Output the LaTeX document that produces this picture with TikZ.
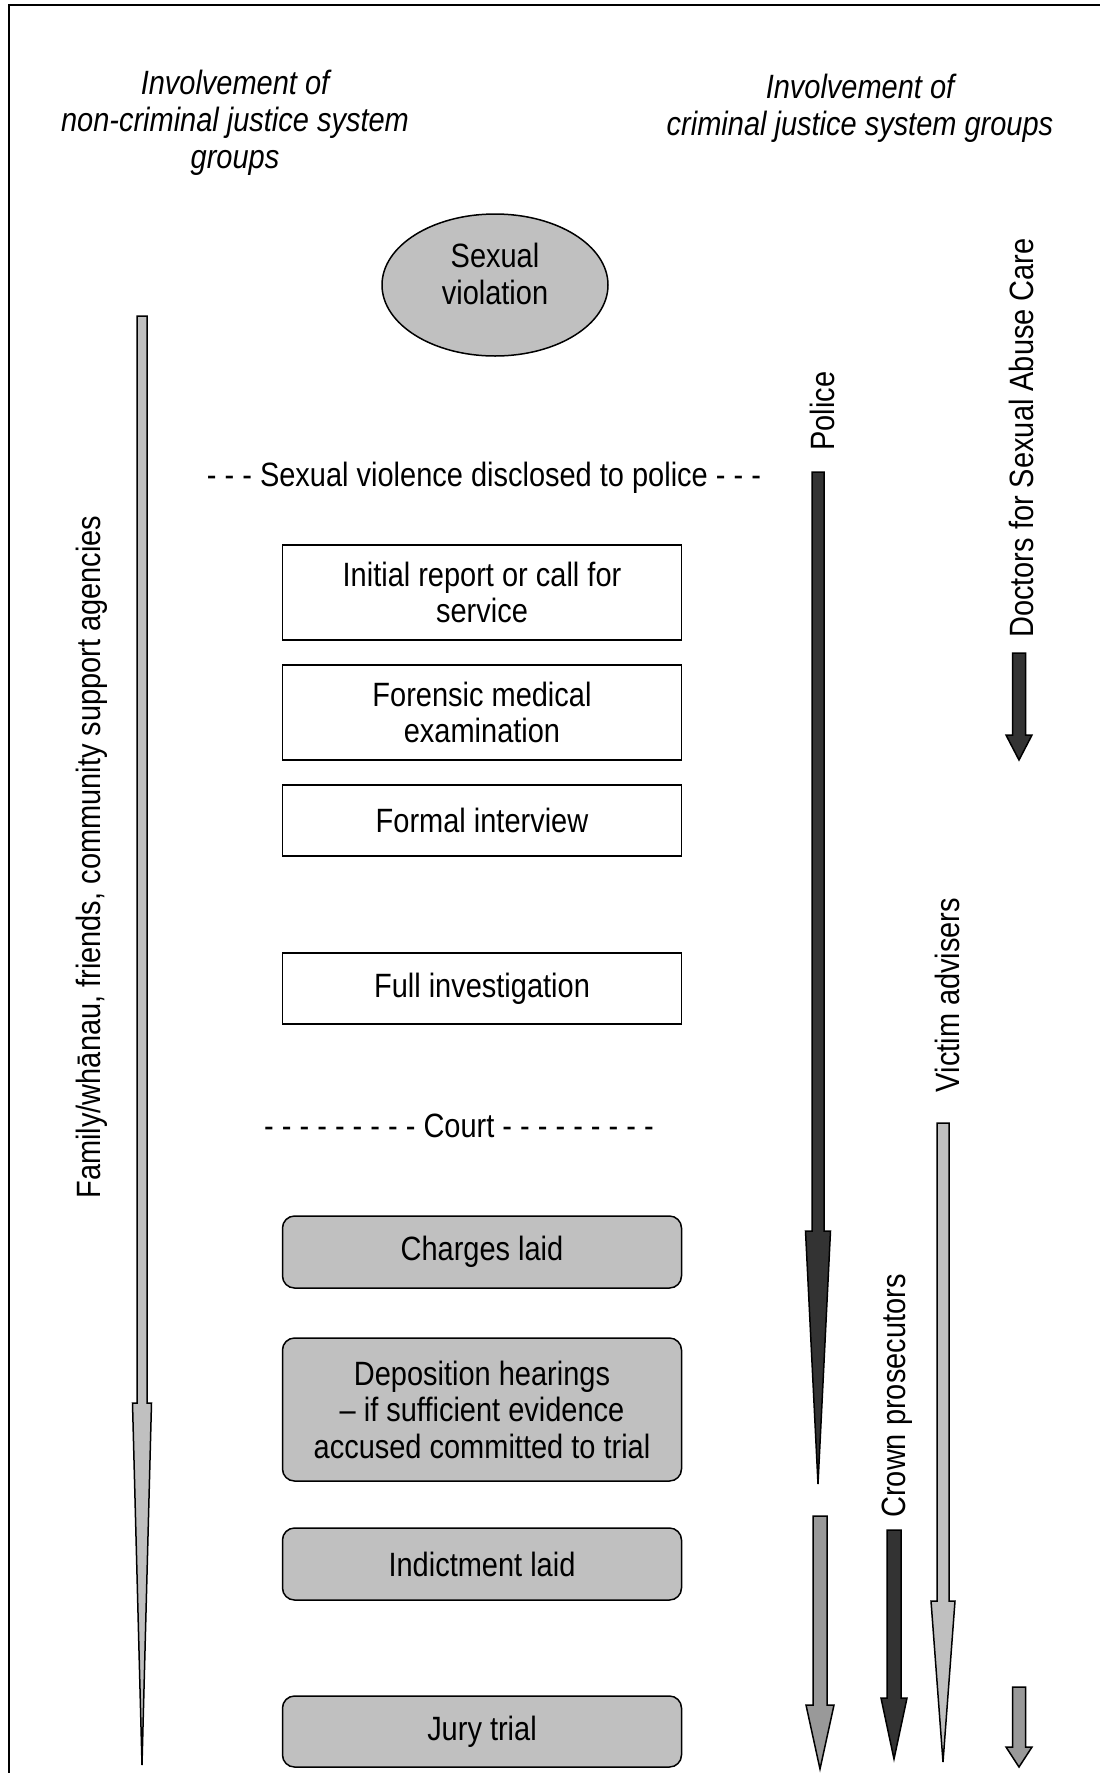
\documentclass[tikz,border=0pt]{standalone}
\usepackage{fontspec}
\setmainfont{Liberation Sans}[FakeStretch=0.86]
\usetikzlibrary{shapes.geometric}
\definecolor{lgray}{HTML}{C0C0C0}
\definecolor{mgray}{HTML}{999999}
\definecolor{dgray}{HTML}{333333}
\newcommand{\blkarrow}[7]{%
  \filldraw[fill=#7, draw=black, line width=1.5pt, line join=miter]
    (#1-#5/2,#2) -- (#1+#5/2,#2) -- (#1+#5/2,#3) -- (#1+#6/2,#3) -- (#1,#4)
    -- (#1-#6/2,#3) -- (#1-#5/2,#3) -- cycle;}
\begin{document}
\begin{tikzpicture}[x=1pt,y=-1pt,
  every node/.style={font=\fontsize{33.7}{36.5}\selectfont, inner sep=0pt},
  stepbox/.style={draw, line width=1.5pt, minimum width=399pt, align=center},
  courtbox/.style={stepbox, fill=lgray, rounded corners=12pt},
  header/.style={font=\fontsize{33.7}{37}\selectfont\itshape, align=center},
  sidelabel/.style={rotate=90}]
\useasboundingbox (0,0) rectangle (1100,1773);
\draw[line width=2.5pt] (9,1773) -- (9,5) -- (1100,5);

% headers
\node[header] (hl) at (235,122.5) {Involvement of\\non-criminal justice system\\groups};
\node[header] (hr) at (860,108.5) {Involvement of\\criminal justice system groups};

% ellipse
\node[ellipse, draw, fill=lgray, line width=1.5pt, minimum width=226pt,
      minimum height=142pt] (sv) at (495,285) {};
\node[align=center] (svt) at (495,274) {Sexual\\violation};

\node (disc) at (484,478) {- - - Sexual violence disclosed to police - - -};

\node[stepbox, minimum height=95pt] (b1) at (482,592.5) {Initial report or call for\\service};
\node[stepbox, minimum height=95pt] (b2) at (482,712.5) {Forensic medical\\examination};
\node[stepbox, minimum height=71pt] (b3) at (482,820.5) {Formal interview};
\node[stepbox, minimum height=71pt] (b4) at (482,988.5) {Full investigation};

\node (court) at (459,1126) {- - - - - - - - - Court - - - - - - - - -};

\node[courtbox, minimum height=72pt] (c1) at (482,1252) {Charges laid};
\node[courtbox, minimum height=143pt] (c2) at (482,1409.5) {Deposition hearings\\– if sufficient evidence\\accused committed to trial};
\node[courtbox, minimum height=72pt] (c3) at (482,1564) {Indictment laid};
\node[courtbox, minimum height=71pt] (c4) at (482,1731.5) {Jury trial};

% side labels
\node[sidelabel] (fam) at (92,857) {Family/whānau, friends, community support agencies};
\node[sidelabel] (pol) at (822,411) {Police};
\node[sidelabel] (doc) at (1021,438) {Doctors for Sexual Abuse Care};
\node[sidelabel] (vic) at (947,995) {Victim advisers};
\node[sidelabel] (crown) at (897,1396) {Crown prosecutors};

% block arrows: x, top, head, tip, shaft width, head width, fill
\blkarrow{142}{316}{1403}{1765}{10}{19}{lgray}
\blkarrow{818}{472}{1231}{1484}{12}{25}{dgray}
\blkarrow{820}{1516}{1705}{1769}{14}{28}{mgray}
\blkarrow{894}{1530}{1698}{1759}{14}{26}{dgray}
\blkarrow{943}{1123}{1601}{1762}{12}{24}{lgray}
\blkarrow{1019}{1687}{1747}{1767}{13}{26}{mgray}
\blkarrow{1019}{653}{735}{760}{13}{26}{dgray}
\end{tikzpicture}
\end{document}
